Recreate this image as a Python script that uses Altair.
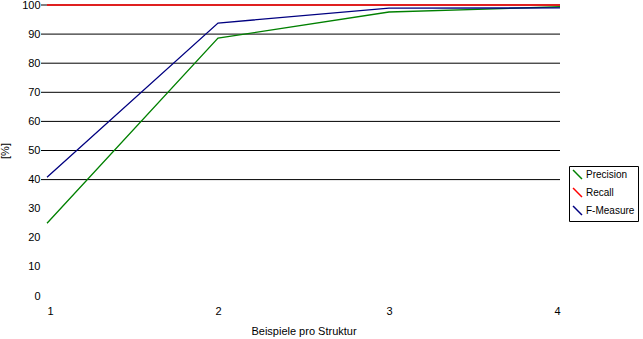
import altair as alt
import pandas as pd

x_vals = [1, 2, 3, 4]
precision = [25, 88.6, 97.6, 99.4]
recall = [100, 100, 100, 100]
fmeasure = [40.8, 93.8, 98.9, 99.0]
series_names = ["Precision", "Recall", "F-Measure"]
series_colors = ["#008000", "#ff0000", "#000080"]
grid_vals = [40, 50, 60, 70, 80, 90, 100]
y_ticks = [0, 10, 20, 30, 40, 50, 60, 70, 80, 90, 100]

rows = []
for name, vals in zip(series_names, [precision, recall, fmeasure]):
    for x, v in zip(x_vals, vals):
        rows.append({"Beispiele": x, "Wert": v, "Serie": name})
df = pd.DataFrame(rows)
grid_df = pd.DataFrame({"Wert": grid_vals})

W, H = 513, 291
FONT = "Liberation Sans"

xs = alt.Scale(domain=[1, 4], nice=False, zero=False)
ys = alt.Scale(domain=[0, 100], nice=False)

y_axis = alt.Axis(values=y_ticks, title="[%]", grid=False, domain=False,
                  ticks=False, labelPadding=7, titlePadding=11,
                  labelFont=FONT, titleFont=FONT, labelFontSize=11,
                  titleFontSize=11, titleFontWeight="normal",
                  labelColor="black", titleColor="black")

grid = alt.Chart(grid_df).mark_rule(color="black", strokeWidth=1).encode(
    y=alt.Y("Wert:Q", scale=ys, axis=y_axis),
    x=alt.value(-6),
    x2=alt.value(W),
)

lines = alt.Chart(df).mark_line(strokeWidth=1.3).encode(
    x=alt.X("Beispiele:Q", scale=xs,
            axis=alt.Axis(values=x_vals, format="d", title="Beispiele pro Struktur",
                          grid=False, domain=False, ticks=False, labelPadding=9,
                          titlePadding=9, labelFont=FONT, titleFont=FONT,
                          labelFontSize=11, titleFontSize=11, titleFontWeight="normal",
                          labelColor="black", titleColor="black")),
    y=alt.Y("Wert:Q", scale=ys, axis=y_axis),
    color=alt.Color("Serie:N",
                    scale=alt.Scale(domain=series_names, range=series_colors),
                    sort=series_names,
                    legend=alt.Legend(title=None, orient="none", legendX=522, legendY=161,
                                      symbolType="M-1,-1L1,1", symbolSize=80,
                                      symbolStrokeWidth=1.5, labelFont=FONT,
                                      labelFontSize=10, labelColor="black",
                                      strokeColor="black", padding=3, rowPadding=3,
                                      labelOffset=3)),
    order=alt.Order("Beispiele:Q"),
)

chart = (grid + lines).properties(
    width=W, height=H,
    autosize=alt.AutoSizeParams(type="none"),
    padding={"left": 47, "top": 5, "right": 83, "bottom": 43},
    background="white",
).configure_view(stroke=None)

chart.save("out.html", embed_options={"renderer": "svg", "actions": False})
